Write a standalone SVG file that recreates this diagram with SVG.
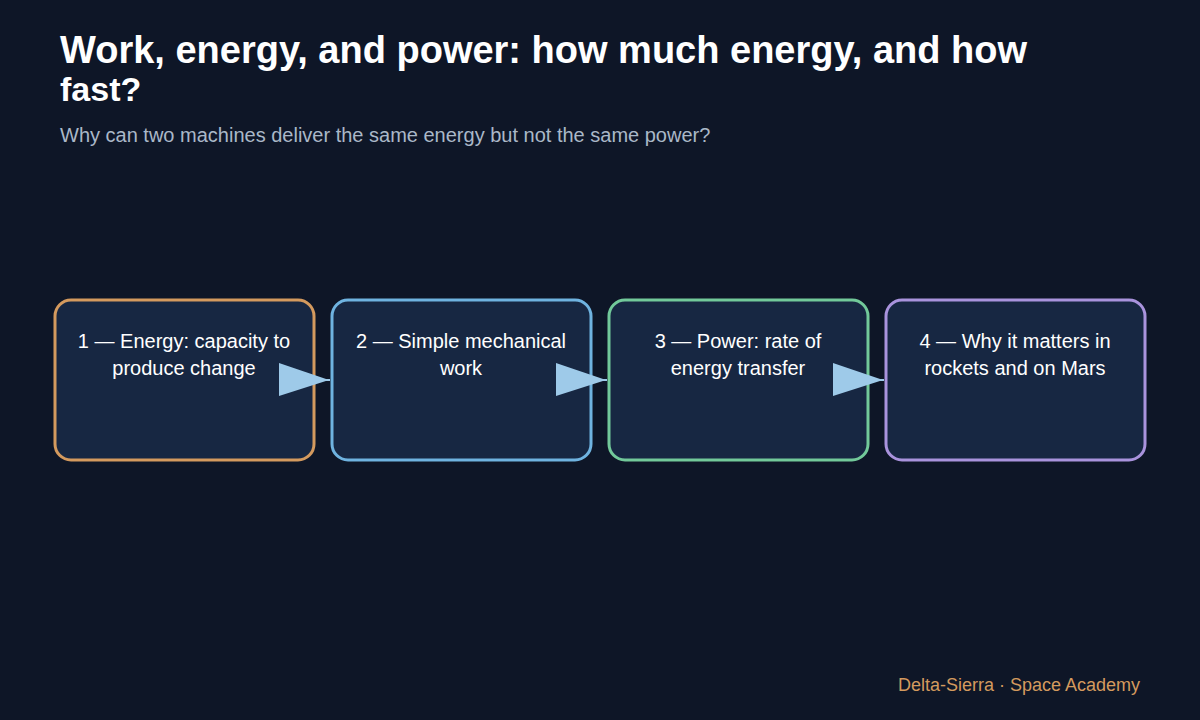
<svg xmlns="http://www.w3.org/2000/svg" width="1200" height="720" viewBox="0 0 1200 720">
<style>
.box{fill:#172742;stroke-width:3}
.lbl{font-family:"Liberation Sans",Arial,sans-serif;font-size:20px;fill:#ffffff;text-anchor:middle}
.arr{fill:#9ecae9}
</style>
<rect width="1200" height="720" fill="#0e1627"/>
<text x="60" y="63" font-family="Liberation Sans,Arial,sans-serif" font-size="38" font-weight="bold" fill="#ffffff">Work, energy, and power: how much energy, and how</text>
<text x="60" y="101" font-family="Liberation Sans,Arial,sans-serif" font-size="34" font-weight="bold" fill="#ffffff">fast?</text>
<text x="60" y="142" font-family="Liberation Sans,Arial,sans-serif" font-size="20" fill="#aab8c8">Why can two machines deliver the same energy but not the same power?</text>
<g id="n1"><rect class="box" x="55" y="300" width="259" height="160" rx="16" stroke="#d49a5e"/><text class="lbl" x="184" y="348">1 — Energy: capacity to</text><text class="lbl" x="184" y="375">produce change</text></g>
<g id="n2"><rect class="box" x="332" y="300" width="259" height="160" rx="16" stroke="#6fb3e0"/><text class="lbl" x="461" y="348">2 — Simple mechanical</text><text class="lbl" x="461" y="375">work</text></g>
<g id="n3"><rect class="box" x="609" y="300" width="259" height="160" rx="16" stroke="#72c99a"/><text class="lbl" x="738" y="348">3 — Power: rate of</text><text class="lbl" x="738" y="375">energy transfer</text></g>
<g id="n4"><rect class="box" x="886" y="300" width="259" height="160" rx="16" stroke="#a993dd"/><text class="lbl" x="1015" y="348">4 — Why it matters in</text><text class="lbl" x="1015" y="375">rockets and on Mars</text></g>
<g id="connectors">
<path d="M314 380H330M591 380H607M868 380H884" stroke="#9ecae9" stroke-width="2"/>
<polygon class="arr" points="279,363 329,380 279,396"/>
<polygon class="arr" points="556,363 606,380 556,396"/>
<polygon class="arr" points="833,363 883,380 833,396"/>
</g>
<text x="1140" y="691" text-anchor="end" font-family="Liberation Sans,Arial,sans-serif" font-size="18" fill="#d49a5e">Delta-Sierra · Space Academy</text>
</svg>
